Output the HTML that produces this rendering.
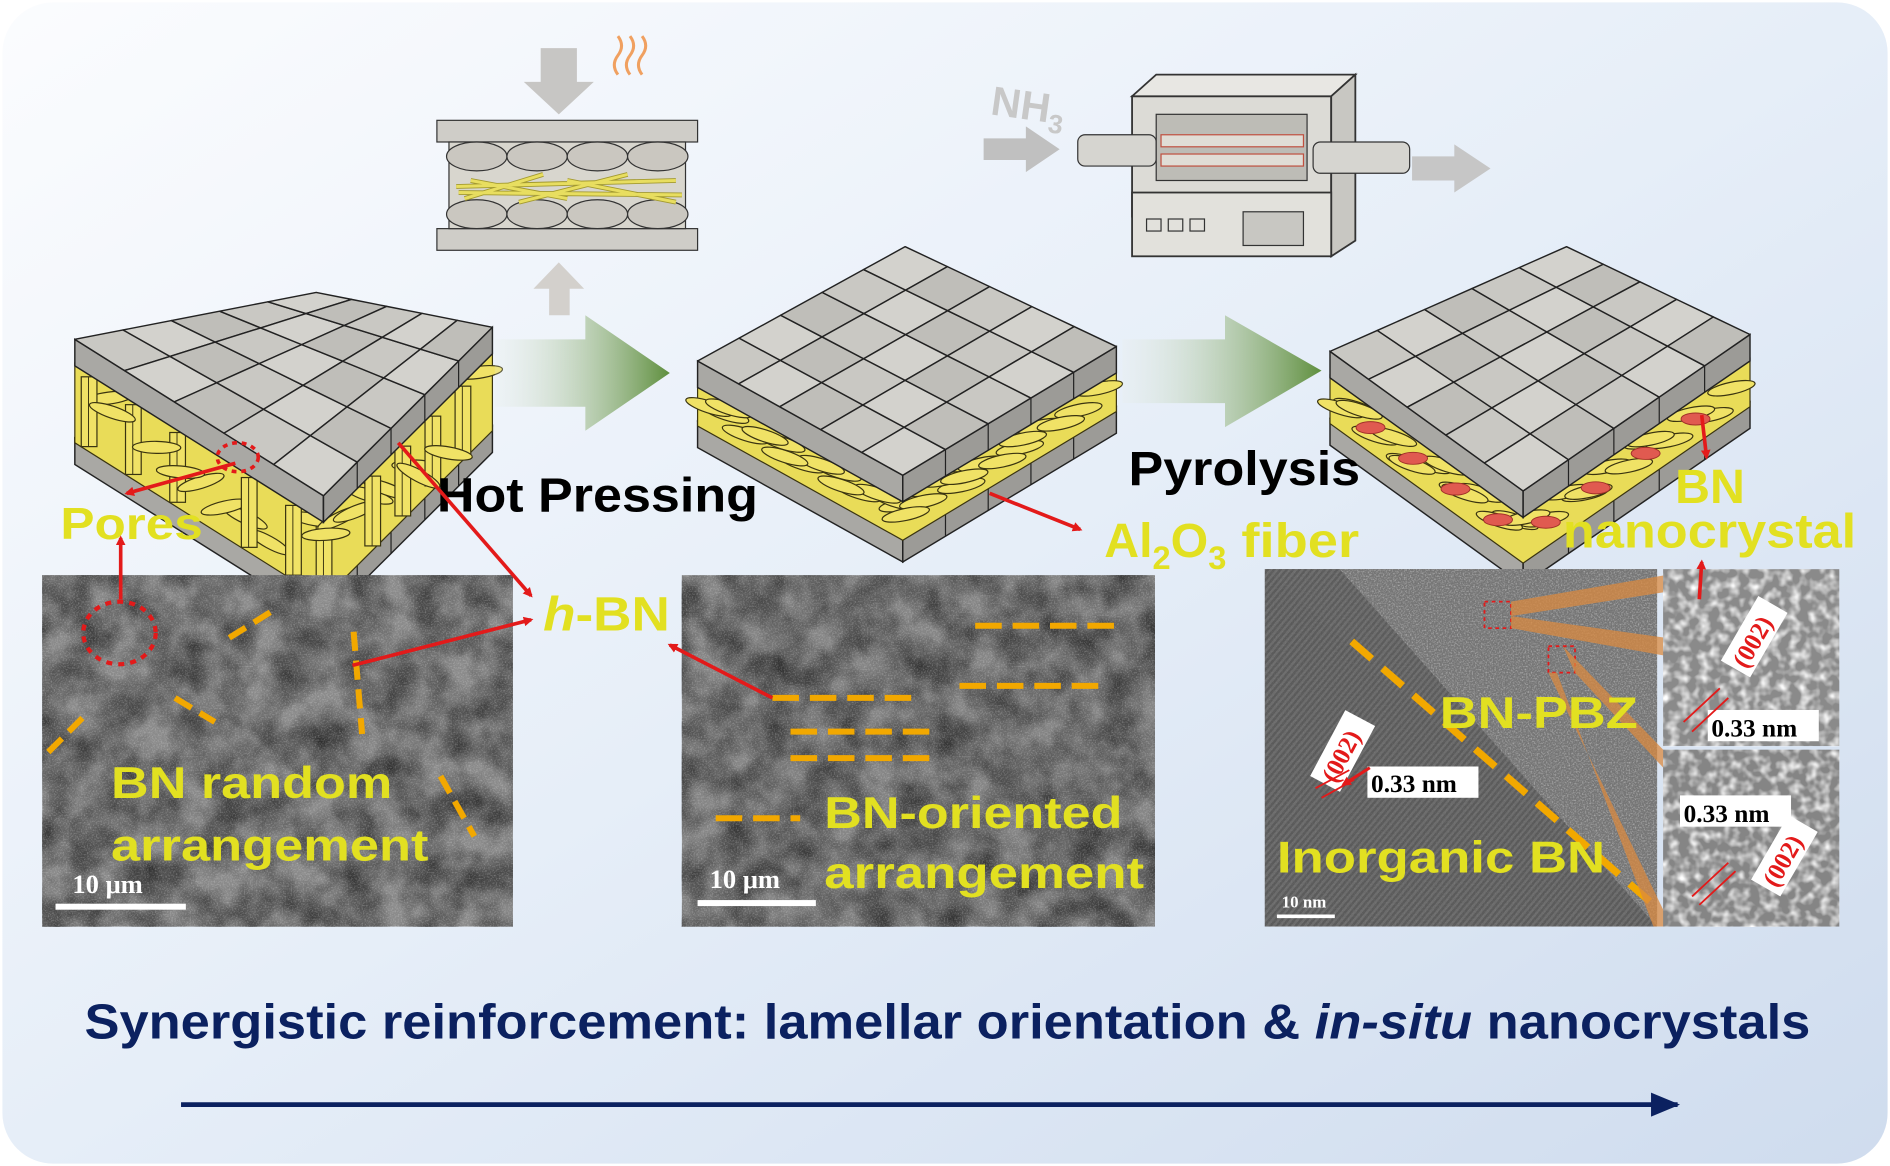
<!DOCTYPE html>
<html><head><meta charset="utf-8">
<style>
html,body{margin:0;padding:0;background:#fff;}
#w{width:1890px;height:1166px;overflow:hidden;position:relative;}
svg{display:block}
text{font-family:"Liberation Sans",Arial,sans-serif;font-weight:bold}
.ser{font-family:"Liberation Serif",serif;font-weight:bold}
</style></head><body>
<div id="w">
<svg id="s" width="1890" height="1166" viewBox="0 0 1566 969" preserveAspectRatio="none" xmlns="http://www.w3.org/2000/svg">
<defs>
<linearGradient id="bg" x1="0" y1="0" x2="1" y2="1">
<stop offset="0" stop-color="#fbfcfe"/><stop offset="0.5" stop-color="#e6eef8"/><stop offset="1" stop-color="#cfdcee"/>
</linearGradient>
<linearGradient id="ga" x1="0" y1="0" x2="1" y2="0">
<stop offset="0" stop-color="#e8eee6" stop-opacity="0.2"/><stop offset="1" stop-color="#5f8f3e"/>
</linearGradient>
<filter id="n1" x="0" y="0" width="100%" height="100%">
<feTurbulence type="fractalNoise" baseFrequency="0.035" numOctaves="3" seed="3"/>
<feColorMatrix type="matrix" values="0 0 0 0 0  0 0 0 0 0  0 0 0 0 0  0 0 0 -1.0 0.75"/>
</filter>
<filter id="n2" x="0" y="0" width="100%" height="100%">
<feTurbulence type="fractalNoise" baseFrequency="0.8" numOctaves="2" seed="5"/>
<feColorMatrix type="matrix" values="0 0 0 0 1  0 0 0 0 1  0 0 0 0 1  0 0 0 1.6 -0.7"/>
</filter>
<filter id="n3" x="0" y="0" width="100%" height="100%">
<feTurbulence type="fractalNoise" baseFrequency="0.12" numOctaves="2" seed="9"/>
<feColorMatrix type="matrix" values="0 0 0 0 1  0 0 0 0 1  0 0 0 0 1  0 0 0 2.2 -0.9"/>
</filter>
<pattern id="lat" width="4" height="4" patternUnits="userSpaceOnUse" patternTransform="rotate(40)">
<rect width="4" height="4" fill="#6a6a6a"/><rect width="2" height="4" fill="#555"/>
</pattern>
<marker id="ar" markerWidth="8" markerHeight="8" refX="6" refY="4" orient="auto" markerUnits="userSpaceOnUse">
<path d="M0,0 L8,4 L0,8 Z" fill="#e31a1a"/>
</marker>
<marker id="an" markerWidth="24" markerHeight="20" refX="22" refY="10" orient="auto" markerUnits="userSpaceOnUse">
<path d="M0,0 L24,10 L0,20 Z" fill="#0b2160"/>
</marker>
</defs>
<rect x="2" y="2" width="1562" height="965" rx="42" fill="url(#bg)"/>
<g id="blocks"></g>

<polygon points="410,282 485,282 485,262 555,310 485,358 485,338 410,338" fill="url(#ga)"/>
<polygon points="930,282 1015,282 1015,262 1095,308 1015,355 1015,335 930,335" fill="url(#ga)"/>

<!-- press -->
<polygon points="448,40 478,40 478,68 492,68 463,95 434,68 448,68" fill="#bbb9b5" opacity="0.8"/>
<path d="M512,62 q-6,-8 0,-16 q6,-8 0,-16 M522,62 q-6,-8 0,-16 q6,-8 0,-16 M532,62 q-6,-8 0,-16 q6,-8 0,-16" stroke="#f0a060" stroke-width="2.5" fill="none"/>
<rect x="362" y="100" width="216" height="18" fill="#cfcdc8" stroke="#333"/>
<rect x="362" y="190" width="216" height="18" fill="#cfcdc8" stroke="#333"/>
<rect x="372" y="118" width="196" height="72" fill="#d8d6ce" stroke="#333"/>
<g stroke="#333" fill="#cac7c0">
<ellipse cx="395" cy="130" rx="25" ry="12"/><ellipse cx="445" cy="130" rx="25" ry="12"/><ellipse cx="495" cy="130" rx="25" ry="12"/><ellipse cx="545" cy="130" rx="25" ry="12"/>
<ellipse cx="395" cy="178" rx="25" ry="12"/><ellipse cx="445" cy="178" rx="25" ry="12"/><ellipse cx="495" cy="178" rx="25" ry="12"/><ellipse cx="545" cy="178" rx="25" ry="12"/>
</g>
<g stroke="#a39a30" stroke-width="4" fill="none">
<path d="M378,155 L560,150 M380,160 L565,162 M385,165 L450,145 M430,168 L520,145 M470,150 L560,168 M390,150 L470,165"/>
</g>
<g stroke="#e8de60" stroke-width="2.5" fill="none">
<path d="M378,155 L560,150 M380,160 L565,162 M385,165 L450,145 M430,168 L520,145 M470,150 L560,168 M390,150 L470,165"/>
</g>
<polygon points="455,262 472,262 472,240 484,240 463,218 442,240 455,240" fill="#ccc7c0" opacity="0.8"/>

<!-- furnace -->
<text x="820" y="95" font-size="34" fill="#c8c8c8" transform="rotate(8 820 95)">NH<tspan font-size="22" dy="8">3</tspan></text>
<polygon points="815,115 850,115 850,105 878,124 850,143 850,133 815,133" fill="#c0c0c0"/>
<polygon points="1170,130 1205,130 1205,120 1235,140 1205,160 1205,150 1170,150" fill="#c6c6c6"/>
<rect x="938" y="80" width="165" height="100" fill="#dcdbd6" stroke="#333" stroke-width="1.5"/>
<polygon points="938,80 958,62 1123,62 1103,80" fill="#e8e7e3" stroke="#333" stroke-width="1.5"/>
<polygon points="1103,80 1123,62 1123,200 1103,213" fill="#c8c7c2" stroke="#333" stroke-width="1.5"/>
<rect x="938" y="160" width="165" height="53" fill="#e2e1dc" stroke="#333" stroke-width="1.5"/>
<rect x="950" y="182" width="12" height="10" fill="none" stroke="#333"/><rect x="968" y="182" width="12" height="10" fill="none" stroke="#333"/><rect x="986" y="182" width="12" height="10" fill="none" stroke="#333"/>
<rect x="1030" y="176" width="50" height="28" fill="#c8c7c2" stroke="#333"/>
<rect x="893" y="112" width="65" height="26" rx="6" fill="#d6d5d0" stroke="#333"/>
<rect x="1088" y="118" width="80" height="26" rx="6" fill="#d6d5d0" stroke="#333"/>
<rect x="958" y="95" width="125" height="55" fill="#bdbcb6" stroke="#333"/>
<rect x="962" y="112" width="118" height="10" fill="#e0ddd6" stroke="#c05040"/>
<rect x="962" y="128" width="118" height="10" fill="#e0ddd6" stroke="#c05040"/>

<!-- SEM 1 -->
<rect x="35" y="478" width="390" height="292" fill="#8a8a8a"/>
<rect x="35" y="478" width="390" height="292" filter="url(#n1)"/>
<rect x="35" y="478" width="390" height="292" filter="url(#n2)" opacity="0.4"/>
<g stroke="#f2a800" stroke-width="5" stroke-dasharray="16,8">
<line x1="145" y1="580" x2="178" y2="600"/><line x1="190" y1="530" x2="230" y2="505"/>
<line x1="293" y1="525" x2="300" y2="610"/><line x1="40" y1="625" x2="70" y2="595"/>
<line x1="365" y1="645" x2="393" y2="695"/>
</g>
<ellipse cx="99" cy="526" rx="30" ry="26" fill="none" stroke="#e31a1a" stroke-width="3.5" stroke-dasharray="5,5"/>
<text x="92" y="663" font-size="37" fill="#e2e021" textLength="233" lengthAdjust="spacingAndGlyphs">BN random</text>
<text x="92" y="715" font-size="37" fill="#e2e021" textLength="263" lengthAdjust="spacingAndGlyphs">arrangement</text>
<text x="60" y="742" class="ser" font-size="22" fill="#fff">10 μm</text>
<rect x="46" y="751" width="108" height="5" fill="#fff"/>

<!-- SEM 2 -->
<rect x="565" y="478" width="392" height="292" fill="#858585"/>
<rect x="565" y="478" width="392" height="292" filter="url(#n1)"/>
<rect x="565" y="478" width="392" height="292" filter="url(#n2)" opacity="0.4"/>
<g stroke="#f2a800" stroke-width="5" stroke-dasharray="22,9">
<line x1="808" y1="520" x2="925" y2="520"/><line x1="640" y1="580" x2="762" y2="580"/>
<line x1="795" y1="570" x2="912" y2="570"/><line x1="655" y1="608" x2="778" y2="608"/>
<line x1="655" y1="630" x2="778" y2="630"/><line x1="593" y1="680" x2="663" y2="680"/>
</g>
<text x="683" y="688" font-size="37" fill="#e2e021" textLength="247" lengthAdjust="spacingAndGlyphs">BN-oriented</text>
<text x="683" y="738" font-size="37" fill="#e2e021" textLength="265" lengthAdjust="spacingAndGlyphs">arrangement</text>
<text x="588" y="738" class="ser" font-size="22" fill="#fff">10 μm</text>
<rect x="578" y="748" width="98" height="5" fill="#fff"/>

<!-- TEM -->
<rect x="1048" y="473" width="325" height="297" fill="#6e6e6e"/>
<polygon points="1048,473 1373,473 1373,770" fill="#757575"/>
<rect x="1048" y="473" width="325" height="297" filter="url(#n2)" opacity="0.6"/>
<polygon points="1048,473 1110,473 1373,770 1048,770" fill="url(#lat)" opacity="0.8"/>
<line x1="1120" y1="533" x2="1368" y2="750" stroke="#f2a800" stroke-width="6" stroke-dasharray="22,12"/>
<rect x="1230" y="500" width="22" height="22" fill="none" stroke="#e31a1a" stroke-width="1.5" stroke-dasharray="3,3"/>
<rect x="1283" y="537" width="22" height="22" fill="none" stroke="#e31a1a" stroke-width="1.5" stroke-dasharray="3,3"/>
<polygon points="1252,500 1380,478 1380,492 1252,512" fill="#d98a40" opacity="0.75"/>
<polygon points="1252,512 1380,530 1380,545 1252,522" fill="#d98a40" opacity="0.75"/>
<polygon points="1295,537 1380,625 1380,640 1305,559" fill="#d98a40" opacity="0.75"/>
<polygon points="1283,559 1380,760 1380,770 1370,770 1290,559" fill="#d98a40" opacity="0.75"/>
<text x="1193" y="605" font-size="37" fill="#e2e021" textLength="164" lengthAdjust="spacingAndGlyphs">BN-PBZ</text>
<text x="1058" y="725" font-size="37" fill="#e2e021" textLength="272" lengthAdjust="spacingAndGlyphs">Inorganic BN</text>
<rect x="1133" y="637" width="92" height="26" fill="#fff"/>
<text x="1136" y="658" class="ser" font-size="21" fill="#000">0.33 nm</text>
<g transform="translate(1112,625) rotate(-62)"><rect x="-30" y="-14" width="62" height="28" fill="#fff"/><text x="-26" y="8" class="ser" font-size="21" fill="#e31a1a">(002)</text></g>
<path d="M1090,655 L1118,640 M1095,663 L1122,648" stroke="#e31a1a" stroke-width="1.5"/>
<line x1="1135" y1="638" x2="1113" y2="652" stroke="#e31a1a" stroke-width="2.5" marker-end="url(#ar)"/>
<text x="1062" y="754" class="ser" font-size="14" fill="#fff">10 nm</text>
<rect x="1058" y="760" width="48" height="3" fill="#fff"/>

<rect x="1378" y="473" width="146" height="147" fill="#8a8a8a"/>
<rect x="1378" y="473" width="146" height="147" filter="url(#n3)"/>
<rect x="1378" y="623" width="146" height="147" fill="#858585"/>
<rect x="1378" y="623" width="146" height="147" filter="url(#n3)"/>
<rect x="1415" y="590" width="92" height="26" fill="#fff"/>
<text x="1418" y="612" class="ser" font-size="21" fill="#000">0.33 nm</text>
<rect x="1392" y="661" width="92" height="26" fill="#fff"/>
<text x="1395" y="683" class="ser" font-size="21" fill="#000">0.33 nm</text>
<g transform="translate(1453,530) rotate(-60)"><rect x="-30" y="-14" width="62" height="28" fill="#fff"/><text x="-26" y="8" class="ser" font-size="21" fill="#e31a1a">(002)</text></g>
<g transform="translate(1478,712) rotate(-60)"><rect x="-30" y="-14" width="62" height="28" fill="#fff"/><text x="-26" y="8" class="ser" font-size="21" fill="#e31a1a">(002)</text></g>
<path d="M1395,600 L1425,572 M1402,608 L1432,580 M1402,745 L1432,717 M1408,752 L1438,724" stroke="#e31a1a" stroke-width="1.5"/>

<!-- labels -->
<text x="50" y="448" font-size="37" fill="#e2e021" textLength="118" lengthAdjust="spacingAndGlyphs">Pores</text>
<text x="362" y="425" font-size="40" fill="#000" textLength="266" lengthAdjust="spacingAndGlyphs">Hot Pressing</text>
<text x="935" y="403" font-size="40" fill="#000" textLength="192" lengthAdjust="spacingAndGlyphs">Pyrolysis</text>
<text x="915" y="463" font-size="40" fill="#e2e021">Al<tspan font-size="27" dy="10">2</tspan><tspan dy="-10">O</tspan><tspan font-size="27" dy="10">3</tspan><tspan dy="-10" textLength="110" lengthAdjust="spacingAndGlyphs"> fiber</tspan></text>
<text x="1388" y="418" font-size="40" fill="#e2e021">BN</text>
<text x="1295" y="455" font-size="40" fill="#e2e021" textLength="243" lengthAdjust="spacingAndGlyphs">nanocrystal</text>
<text x="450" y="524" font-size="40" fill="#e2e021" textLength="105" lengthAdjust="spacingAndGlyphs"><tspan font-style="italic">h</tspan>-BN</text>

<g stroke="#e31a1a" stroke-width="3" fill="none">
<line x1="195" y1="385" x2="105" y2="410" marker-end="url(#ar)"/>
<line x1="100" y1="498" x2="100" y2="447" marker-end="url(#ar)"/>
<line x1="292" y1="553" x2="440" y2="515" marker-end="url(#ar)"/>
<line x1="330" y1="368" x2="440" y2="495" marker-end="url(#ar)"/>
<line x1="640" y1="580" x2="555" y2="536" marker-end="url(#ar)"/>
<line x1="820" y1="410" x2="895" y2="440" marker-end="url(#ar)"/>
<line x1="1410" y1="345" x2="1414" y2="380" marker-end="url(#ar)"/>
<line x1="1408" y1="498" x2="1410" y2="467" marker-end="url(#ar)"/>
</g>
<ellipse cx="197" cy="380" rx="17" ry="12" fill="none" stroke="#e31a1a" stroke-width="3" stroke-dasharray="4,4"/>

<text x="70" y="863" font-size="41" fill="#0b2160" textLength="1430" lengthAdjust="spacingAndGlyphs">Synergistic reinforcement: lamellar orientation &amp; <tspan font-style="italic">in-situ</tspan> nanocrystals</text>
<line x1="150" y1="918" x2="1390" y2="918" stroke="#0b2160" stroke-width="4" marker-end="url(#an)"/>
</svg>
</div>
<script>
(function(){
var NS="http://www.w3.org/2000/svg",g=document.getElementById("blocks");
function el(t,a){var e=document.createElementNS(NS,t);for(var k in a)e.setAttribute(k,a[k]);g.appendChild(e);return e;}
function lerp(a,b,t){return [a[0]+(b[0]-a[0])*t,a[1]+(b[1]-a[1])*t];}
function bil(L,B,R,F,u,v){var p=lerp(L,B,u),q=lerp(F,R,u);return lerp(p,q,v);}
function pts(a){return a.map(function(p){return p[0].toFixed(1)+","+p[1].toFixed(1)}).join(" ");}
function off(p,dy){return [p[0],p[1]+dy];}
function layer(L,B,R,F,th,n){
 el("polygon",{points:pts([L,F,off(F,th),off(L,th)]),fill:"#a9a8a4",stroke:"#222","stroke-width":1.2});
 el("polygon",{points:pts([F,R,off(R,th),off(F,th)]),fill:"#9c9b97",stroke:"#222","stroke-width":1.2});
 for(var i=0;i<n;i++){var u=i/n;
  var b=bil(L,B,R,F,u,1);
  el("line",{x1:b[0],y1:b[1],x2:b[0],y2:b[1]+th,stroke:"#222","stroke-width":1});
  var a=bil(L,B,R,F,1,u);
  el("line",{x1:a[0],y1:a[1],x2:a[0],y2:a[1]+th,stroke:"#222","stroke-width":1});}
 for(var i=0;i<n;i++)for(var j=0;j<n;j++){
  var q=[bil(L,B,R,F,i/n,j/n),bil(L,B,R,F,(i+1)/n,j/n),bil(L,B,R,F,(i+1)/n,(j+1)/n),bil(L,B,R,F,i/n,(j+1)/n)];
  var c=["#c9c8c3","#d3d2cd","#bfbeb9"][(i+j)%3];
  el("polygon",{points:pts(q),fill:c,stroke:"#222","stroke-width":1.2,"stroke-linejoin":"round"});
 }
}
function block(L,B,R,F,gap,vertical,red){
 var th=22,n=5;
 var Ld=off(L,gap+th),Bd=off(B,gap+th),Rd=off(R,gap+th),Fd=off(F,gap+th);
 layer(Ld,Bd,Rd,Fd,th,n);
 el("polygon",{points:pts([off(L,th-2),off(F,th-2),off(R,th-2),off(R,gap+th+4),off(F,gap+th+4),off(L,gap+th+4)]),fill:"#e9dc58",stroke:"#3a3410","stroke-width":1});
 for(var k=0;k<28;k++){
  var t=(k*0.137)%1, side=k%2;
  var p=side?lerp(L,F,t):lerp(F,R,t);
  var y0=p[1]+th+2, x0=p[0];
  if(vertical && k%3==0){
   el("rect",{x:x0-6,y:y0,width:13,height:gap-2,fill:"#f0e266",stroke:"#3a3410","stroke-width":1});
   el("line",{x1:x0,y1:y0,x2:x0,y2:y0+gap-2,stroke:"#3a3410","stroke-width":0.8});
  } else {
   var yy=y0+((k*7)%Math.max(gap-12,4));
   el("ellipse",{cx:x0,cy:yy,rx:20,ry:5,fill:"#f0e266",stroke:"#3a3410","stroke-width":1,transform:"rotate("+(vertical?(k*23%60-30):(side?18:-12))+" "+x0+" "+yy+")"});
  }
 }
 if(red){for(var k=0;k<8;k++){var t=0.1+k*0.11,p=k%2?lerp(L,F,t):lerp(F,R,t);
  el("ellipse",{cx:p[0],cy:p[1]+th+gap/2,rx:12,ry:5,fill:"#e05a50",stroke:"#a03028","stroke-width":0.8});}}
 layer(L,B,R,F,th,n);
}
block([62,282],[262,243],[408,272],[268,412],60,true,false);
block([578,300],[750,205],[925,288],[748,395],28,false,false);
block([1102,292],[1298,205],[1450,278],[1262,408],34,false,true);
})();
</script>
</body></html>
